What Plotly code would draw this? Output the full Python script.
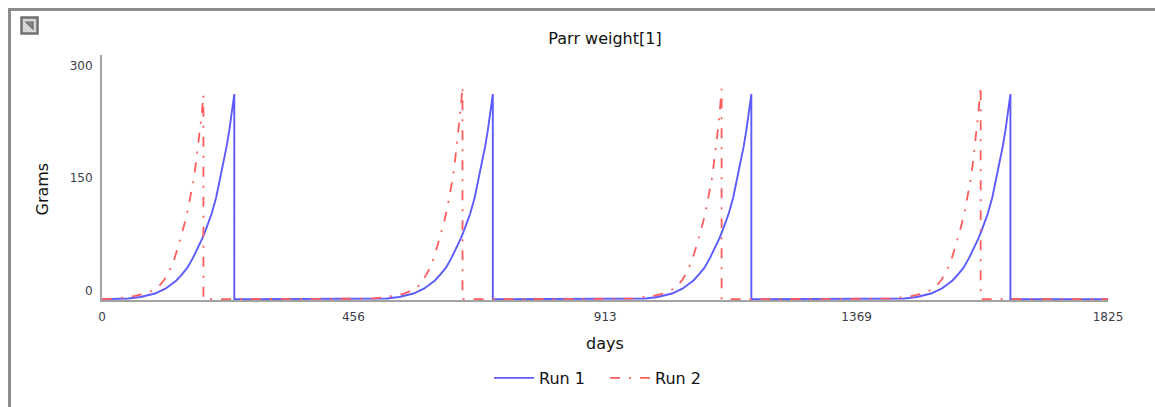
import plotly.graph_objects as go

# Parr weight (grams) over the simulation, two runs
run1_days = [0,
             20, 48, 70, 96, 115, 135, 145, 155, 165, 175, 182, 188, 194, 199, 207, 214, 220, 226, 231, 235, 238, 240, 240,
             489, 517, 539, 565, 584, 604, 614, 624, 634, 644, 651, 657, 663, 668, 676, 683, 689, 695, 700, 704, 707, 709, 709,
             958, 986, 1008, 1034, 1053, 1073, 1083, 1093, 1103, 1113, 1120, 1126, 1132, 1137, 1145, 1152, 1158, 1164, 1169, 1173, 1176, 1178, 1178,
             1428, 1456, 1478, 1504, 1523, 1543, 1553, 1563, 1573, 1583, 1590, 1596, 1602, 1607, 1615, 1622, 1628, 1634, 1639, 1643, 1646, 1648, 1648,
             1825]
run1_grams = [0,
              0.1, 1, 3, 7.6, 14, 25, 33, 42, 55, 70, 81, 92, 103, 114, 135, 159, 180, 203, 225, 248, 262, 273, 0,
              0.1, 1, 3, 7.6, 14, 25, 33, 42, 55, 70, 81, 92, 103, 114, 135, 159, 180, 203, 225, 248, 262, 273, 0,
              0.1, 1, 3, 7.6, 14, 25, 33, 42, 55, 70, 81, 92, 103, 114, 135, 159, 180, 203, 225, 248, 262, 273, 0,
              0.1, 1, 3, 7.6, 14, 25, 33, 42, 55, 70, 81, 92, 103, 114, 135, 159, 180, 203, 225, 248, 262, 273, 0,
              0]

run2_days = [0, 20, 42, 60, 78, 90, 102, 113, 123, 131, 138, 144, 150, 156, 162, 167, 171, 175, 178, 181, 184, 184,
             490, 512, 530, 548, 560, 572, 583, 593, 601, 608, 614, 620, 626, 632, 637, 641, 645, 648, 651, 654, 654,
             960, 982, 1000, 1018, 1030, 1042, 1053, 1063, 1071, 1078, 1084, 1090, 1096, 1102, 1107, 1111, 1115, 1118, 1121, 1124, 1124,
             1430, 1452, 1470, 1488, 1500, 1512, 1523, 1533, 1541, 1548, 1554, 1560, 1566, 1572, 1577, 1581, 1585, 1588, 1591, 1594, 1594,
             1825]
run2_grams = [0.2, 0.8, 2.5, 4.5, 7.6, 11, 16, 26, 39, 53, 70, 85, 101, 120, 141, 162, 185, 207, 225, 247, 272, 0,
              0.8, 2.5, 4.5, 7.6, 11, 16, 26, 39, 53, 70, 85, 101, 120, 142, 164, 188, 212, 232, 256, 283, 0,
              0.8, 2.5, 4.5, 7.6, 11, 16, 26, 39, 53, 70, 85, 101, 120, 141, 163, 187, 210, 230, 253, 280, 0,
              0.8, 2.5, 4.5, 7.6, 11, 16, 26, 39, 53, 70, 85, 101, 120, 142, 164, 188, 213, 233, 257, 284, 0,
              0]

x_ticks = [0, 456, 913, 1369, 1825]
y_ticks = [0, 150, 300]

FONT = "DejaVu Sans, Verdana, sans-serif"
W, H = 1155, 407
L, R, T, B = 102, 47, 55, 107
PW, PH = W - L - R, H - T - B


def px(x):
    return (x - L) / PW


def py(y):
    return (H - B - y) / PH


fig = go.Figure()
fig.add_trace(go.Scatter(
    x=run1_days, y=run1_grams, mode="lines", name="Run 1",
    line=dict(color="#5b5bff", width=1.9),
))
fig.add_trace(go.Scatter(
    x=run2_days, y=run2_grams, mode="lines", name="Run 2",
    line=dict(color="#ff5c5c", width=1.8, dash="10px,9px,2px,9px"),
))

axis_common = dict(
    showgrid=False, zeroline=False, showline=True,
    linecolor="#a3a3a3", linewidth=2, ticks="",
    tickfont=dict(family=FONT, size=12, color="#3c3c46"),
)

fig.update_layout(
    width=W, height=H,
    margin=dict(l=L, r=R, t=T, b=B),
    paper_bgcolor="white", plot_bgcolor="white",
    font=dict(family=FONT, color="#111111"),
    title=dict(text="Parr weight[1]", x=0.5, xref="paper",
               y=1 - 38 / H, yref="container", yanchor="middle",
               font=dict(family=FONT, size=16, color="#111111")),
    xaxis=dict(range=[0, 1825], tickvals=x_ticks, ticklabelstandoff=5,
               title=dict(text="days", standoff=14,
                          font=dict(family=FONT, size=16, color="#111111")),
               **axis_common),
    yaxis=dict(range=[-1, 325], tickvals=y_ticks, ticklabelposition="outside top",
               ticklabelstandoff=5, **axis_common),
    legend=dict(orientation="h", x=px(489), xanchor="left",
                y=py(378), yanchor="middle",
                font=dict(family=FONT, size=16, color="#111111"),
                itemwidth=40, entrywidth=61, bgcolor="rgba(0,0,0,0)"),
    showlegend=True,
)

# vertical axis title
fig.add_annotation(text="Grams", textangle=-90, xref="paper", yref="paper",
                   x=px(41.5), y=py(189), xanchor="center", yanchor="middle",
                   showarrow=False, font=dict(family=FONT, size=16, color="#111111"))

# window frame (left and top edges) and the small corner icon
fig.add_shape(type="path", xref="paper", yref="paper",
              path=f"M {px(9.5)} {py(415)} L {px(9.5)} {py(9.5)} L {px(1165)} {py(9.5)}",
              line=dict(color="#8c8c8c", width=3))
fig.add_shape(type="rect", xref="paper", yref="paper",
              x0=px(21.5), x1=px(37.5), y0=py(33.5), y1=py(17.5),
              line=dict(color="#707070", width=2.5), fillcolor="#d6d6d6")
fig.add_shape(type="path", xref="paper", yref="paper",
              path=f"M {px(26)} {py(22)} L {px(33)} {py(22)} L {px(33)} {py(29)} Z",
              line=dict(color="#6a6a6a", width=1.2), fillcolor="#8a8a8a")

fig.write_html("out.html")
